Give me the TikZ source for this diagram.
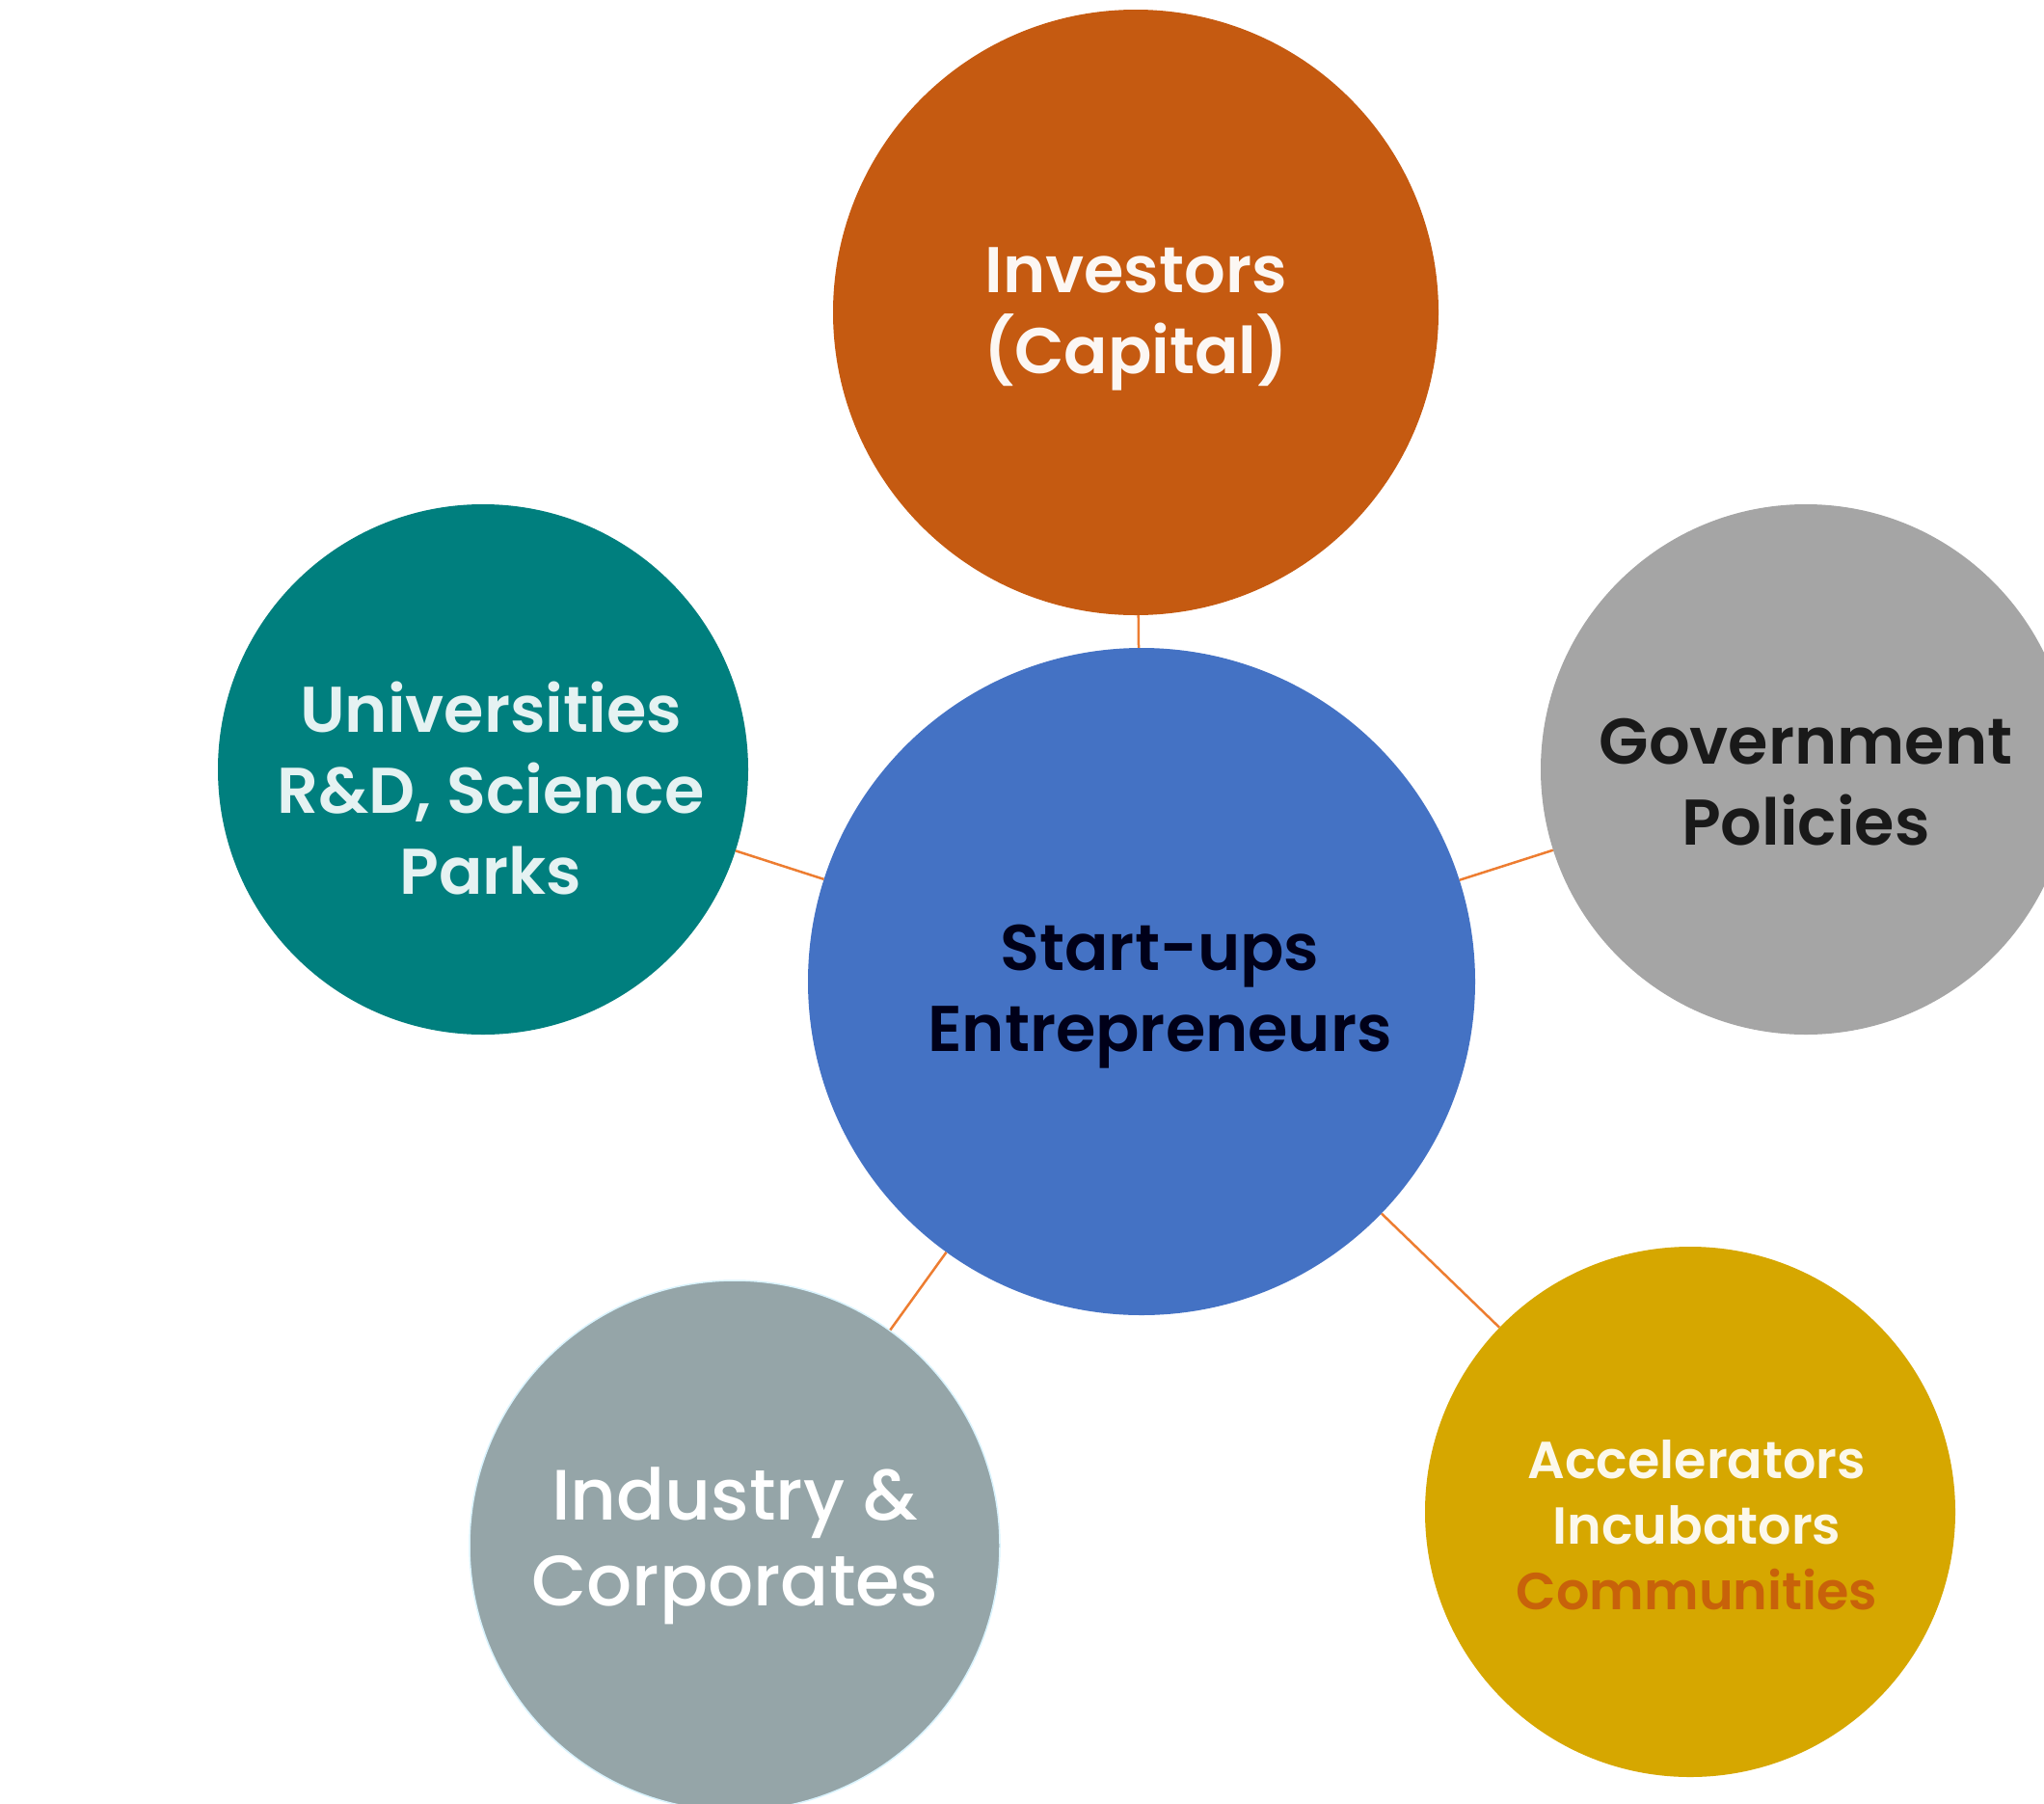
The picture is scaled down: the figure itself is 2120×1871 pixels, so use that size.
\documentclass[tikz,border=0pt]{standalone}
\usepackage{fontspec}
\setmainfont{Poppins}
\newfontfamily\popsemi{Poppins SemiBold}
\newfontfamily\popmed{Poppins Medium}
\usepackage{tikz}
\definecolor{invcol}{HTML}{C55A11}
\definecolor{startcol}{HTML}{4472C4}
\definecolor{unicol}{HTML}{007F7E}
\definecolor{govcol}{HTML}{A5A5A5}
\definecolor{indcol}{HTML}{95A5A8}
\definecolor{acccol}{HTML}{D6A700}
\definecolor{commcol}{HTML}{C8620A}
\definecolor{linkcol}{HTML}{ED7D31}
\tikzset{
  bubble/.style={circle, inner sep=0pt, minimum size=550pt},
  lbl/.style={align=center, font={\fontsize{67}{84}\selectfont\popsemi}},
  link/.style={draw=linkcol, line width=2.5pt}
}
\begin{document}
\begin{tikzpicture}[x=1pt,y=-1pt]
      \useasboundingbox (0,0) rectangle (2120,1871);
      \node[bubble, fill=invcol, minimum size=628pt] (inv) at (1178,324) {};
      \node[bubble, fill=startcol, minimum size=692pt] (start) at (1184,1018) {};
      \node[bubble, fill=unicol] (uni) at (501,798) {};
      \node[bubble, fill=govcol] (gov) at (1873,798) {};
      \node[bubble, fill=indcol, draw=cyan!15, line width=1.5pt] (ind) at (762,1603) {};
      \node[bubble, fill=acccol] (acc) at (1753,1568) {};
      \draw[link] (inv) -- (start);
      \draw[link] (uni) -- (start);
      \draw[link] (gov) -- (start);
      \draw[link] (ind) -- (start);
      \draw[link] (acc) -- (start);
      \node[lbl, text=white!95!invcol] (invtext) at (1178,331) {Investors\\(Capital)};
      \node[lbl, text=black!90!blue] (starttext) at (1203,1034) {Start-ups\\Entrepreneurs};
      \node[lbl, text=white!90!unicol] (unitext) at (509,818) {Universities\\R\&D, Science\\Parks};
      \node[lbl, text=black!90] (govtext) at (1873,811) {Government\\Policies};
      \node[lbl, text=white, font={\fontsize{74}{89}\selectfont\popmed}] (indtext) at (762,1603) {Industry \&\\Corporates};
      \node[lbl, text=white!92!acccol, font={\fontsize{54}{68}\selectfont\popsemi}] (acctext) at (1760,1582)
        {Accelerators\\Incubators\\\textcolor{commcol}{Communities}};
    \end{tikzpicture}
\end{document}
